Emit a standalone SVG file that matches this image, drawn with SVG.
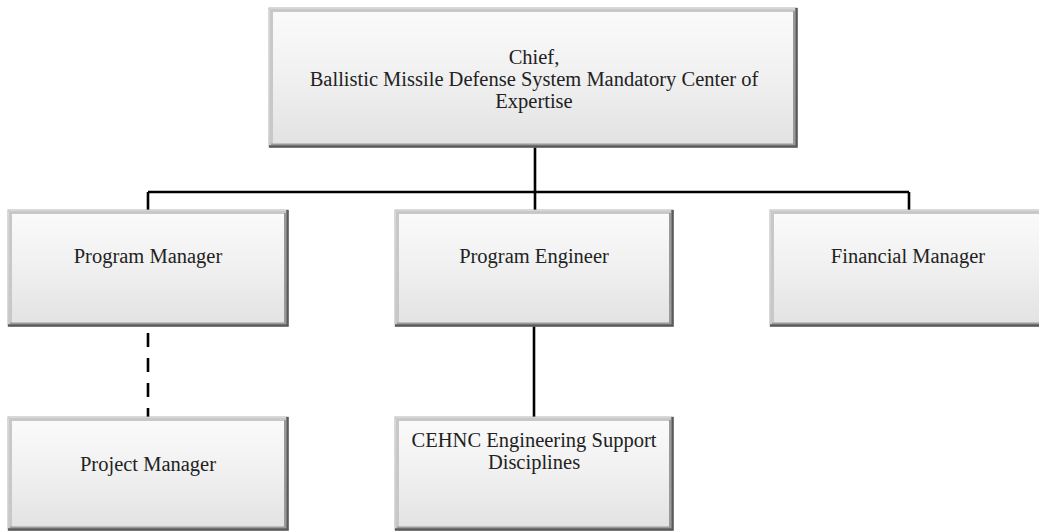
<svg xmlns="http://www.w3.org/2000/svg" width="1039" height="532" viewBox="0 0 1039 532">
<defs>
<linearGradient id="g" x1="0" y1="0" x2="0" y2="1">
<stop offset="0" stop-color="#fbfbfb"/>
<stop offset="0.5" stop-color="#f0f0f0"/>
<stop offset="1" stop-color="#e2e2e2"/>
</linearGradient>
</defs>
<style>
.box{fill:url(#g);stroke:#b4b4b4;stroke-width:1}
.dk{fill:none;stroke:#5a5a5a;stroke-width:2.5}
.md{fill:none;stroke:#9a9a9a;stroke-width:2}
.lt{fill:none;stroke:#c8c8c8;stroke-width:3}
.t{font-size:20.5px;fill:#222;text-anchor:middle}
.c{fill:none;stroke:#000;stroke-width:2.6}
.d{stroke-dasharray:14 11}
</style>
<g id="connectors">
<path class="c" d="M535 147V192M148 192H909M148 192V210M535 192V210M909 192V210"/>
<path class="c d" d="M148 333V417"/>
<path class="c" d="M534 326V417"/>
</g>
<g font-family="'Liberation Serif', 'DejaVu Serif', serif">
<g id="chief">
<rect class="box" x="269" y="8" width="528" height="139"/>
<path class="lt" d="M271.5 145V10.5H795"/>
<path class="md" d="M271 144.5H794V11"/>
<path class="dk" d="M269 146.5H796.5V8"/>
<text class="t" x="534" y="64">Chief,</text>
<text class="t" x="534" y="86">Ballistic Missile Defense System Mandatory Center of</text>
<text class="t" x="534" y="108">Expertise</text>
</g>
<g id="program-manager">
<rect class="box" x="8" y="210" width="280" height="116"/>
<path class="lt" d="M10.5 324V212.5H286"/>
<path class="md" d="M10 323.5H285V213"/>
<path class="dk" d="M8 325.5H287.5V210"/>
<text class="t" x="148" y="263">Program Manager</text>
</g>
<g id="program-engineer">
<rect class="box" x="395" y="210" width="278" height="116"/>
<path class="lt" d="M397.5 324V212.5H671"/>
<path class="md" d="M397 323.5H670V213"/>
<path class="dk" d="M395 325.5H672.5V210"/>
<text class="t" x="534" y="263">Program Engineer</text>
</g>
<g id="financial-manager">
<rect class="box" x="770" y="210" width="280" height="116"/>
<path class="lt" d="M772.5 324V212.5H1048"/>
<path class="md" d="M772 323.5H1047V213"/>
<path class="dk" d="M770 325.5H1049.5V210"/>
<text class="t" x="908" y="263">Financial Manager</text>
</g>
<g id="project-manager">
<rect class="box" x="8" y="417" width="280" height="113"/>
<path class="lt" d="M10.5 528V419.5H286"/>
<path class="md" d="M10 527.5H285V420"/>
<path class="dk" d="M8 529.5H287.5V417"/>
<text class="t" x="148" y="471">Project Manager</text>
</g>
<g id="cehnc">
<rect class="box" x="395" y="417" width="278" height="113"/>
<path class="lt" d="M397.5 528V419.5H671"/>
<path class="md" d="M397 527.5H670V420"/>
<path class="dk" d="M395 529.5H672.5V417"/>
<text class="t" x="534" y="447">CEHNC Engineering Support</text>
<text class="t" x="534" y="469">Disciplines</text>
</g>
</g>
</svg>
